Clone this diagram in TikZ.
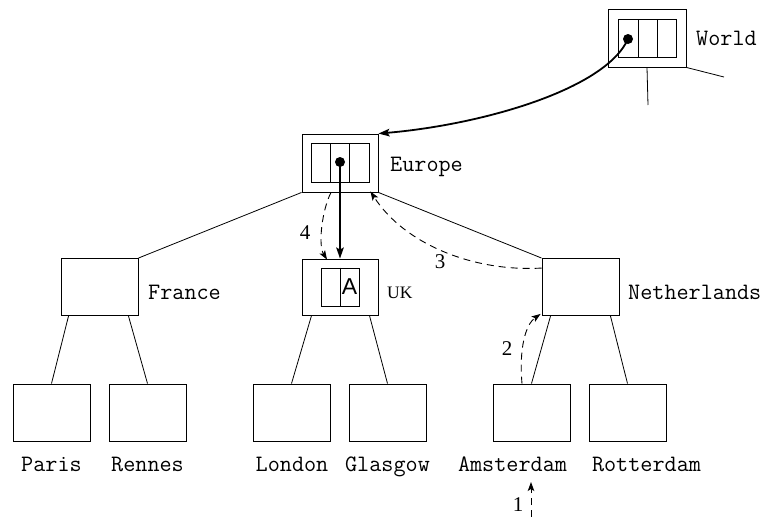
\documentclass[tikz,border=0pt]{standalone}
\usepackage{fontspec}
\setmainfont{Liberation Serif}
\newfontfamily\labelsans{Liberation Sans}
\usetikzlibrary{arrows.meta}
\begin{document}
\begin{tikzpicture}[x=1pt,y=-1pt,
  box/.style={draw,line width=0.9pt,minimum width=77pt,minimum height=57pt,inner sep=0pt},
  inbox/.style={draw,line width=0.9pt,inner sep=0pt},
  monolbl/.style={inner sep=0pt,font=\ttfamily\fontsize{23.5}{26}\selectfont},
  numlbl/.style={inner sep=0pt,font=\fontsize{21}{24}\selectfont},
  treeedge/.style={line width=0.8pt},
  ptr/.style={line width=1.8pt,-{Stealth[length=11pt,width=7.5pt,inset=2pt]}},
  searchstep/.style={line width=0.9pt,dash pattern=on 7pt off 5pt,-{Stealth[length=9pt,width=6.5pt,inset=2pt]}},
  ptrdot/.style={circle,fill,inner sep=0pt,minimum size=10pt}
]
\useasboundingbox (0,0) rectangle (769,517);

% World
\node[box,minimum width=78pt,minimum height=58pt] (world) at (647,38) {};
\node[inbox,minimum width=58pt,minimum height=38pt] (worldin) at (647,38) {};
\draw[line width=0.9pt] (638,19) -- (638,57) (657,19) -- (657,57);
\node[ptrdot] (worlddot) at (628,39) {};
\coordinate (wdown) at (648,105);
\coordinate (wright) at (724,77);
\draw[treeedge] (world.south) -- (wdown);
\draw[treeedge] (world.south east) -- (wright);
\node[monolbl,anchor=base west] (worldlbl) at (696,45) {World};

% Europe
\node[box,minimum width=76pt,minimum height=58pt] (europe) at (340,163) {};
\node[inbox,minimum width=58pt,minimum height=39pt] (europein) at (340,162.5) {};
\draw[line width=0.9pt] (330.5,143) -- (330.5,182) (349.5,143) -- (349.5,182);
\node[ptrdot] (europedot) at (340,162) {};
\node[monolbl,anchor=base west] (europelbl) at (390,171) {Europe};

% Second level
\node[box] (france) at (99.5,287) {};
\node[monolbl,anchor=base west] (francelbl) at (148,299) {France};
\node[box,minimum width=76pt,minimum height=56pt] (uk) at (340,287) {};
\node[inbox,minimum width=38pt,minimum height=38pt] (ukin) at (340,287) {};
\draw[line width=0.9pt] (ukin.north) -- (ukin.south);
\node[inner sep=0pt,font=\labelsans\fontsize{23}{26}\selectfont] (ukA) at (349.5,287) {A};
\node[inner sep=0pt,font=\fontsize{17.5}{20}\selectfont,anchor=base west] (uklbl) at (387,298) {UK};
\node[box] (neth) at (580.5,287) {};
\node[monolbl,anchor=base west] (nethlbl) at (628,299) {Netherlands};

% Leaves
\foreach \n/\x/\lx/\t in {paris/51.5/51.5/Paris,rennes/147.5/147.5/Rennes,london/291.5/292/London,glasgow/387.5/387.5/Glasgow,amsterdam/531.5/512.5/Amsterdam,rotterdam/627.5/646.5/Rotterdam}{
  \node[box] (\n) at (\x,412.5) {};
  \node[monolbl,anchor=base] (\n lbl) at (\lx,471.5) {\t};
}

% Tree edges
\draw[treeedge] (europe.south west) -- (france.north east);
\draw[treeedge] (europe.south east) -- (neth.north west);
\draw[treeedge] ([xshift=8pt]france.south west) -- (paris.north);
\draw[treeedge] ([xshift=-10pt]france.south east) -- (rennes.north);
\draw[treeedge] ([xshift=10pt]uk.south west) -- (london.north);
\draw[treeedge] ([xshift=-9pt]uk.south east) -- (glasgow.north);
\draw[treeedge] ([xshift=9pt]neth.south west) -- (amsterdam.north);
\draw[treeedge] ([xshift=-9pt]neth.south east) -- (rotterdam.north);

% Pointers
\draw[ptr] (worlddot.center) .. controls (605,90) and (480,125) .. (europe.north east);
\draw[ptr] (europedot.center) -- (uk.north);

% Search steps
\coordinate (start) at (531,517);
\coordinate (s1end) at (531,482);
\draw[searchstep] (start) -- (s1end);
\node[numlbl] (n1) at (518,505) {1};
\draw[searchstep] ([xshift=-9.5pt]amsterdam.north) .. controls (519,350) and (525,325) .. ([xshift=-1pt,yshift=2pt]neth.south west);
\node[numlbl] (n2) at (507,349) {2};
\draw[searchstep] ([yshift=-10pt]neth.north west) .. controls (475,272) and (405,245) .. ([xshift=-8pt,yshift=1pt]europe.south east);
\node[numlbl] (n3) at (440,262) {3};
\draw[searchstep] ([xshift=-9pt]europe.south) .. controls (322,210) and (318,245) .. ([xshift=-13pt,yshift=-1pt]uk.north);
\node[numlbl] (n4) at (305,233) {4};
\end{tikzpicture}
\end{document}
